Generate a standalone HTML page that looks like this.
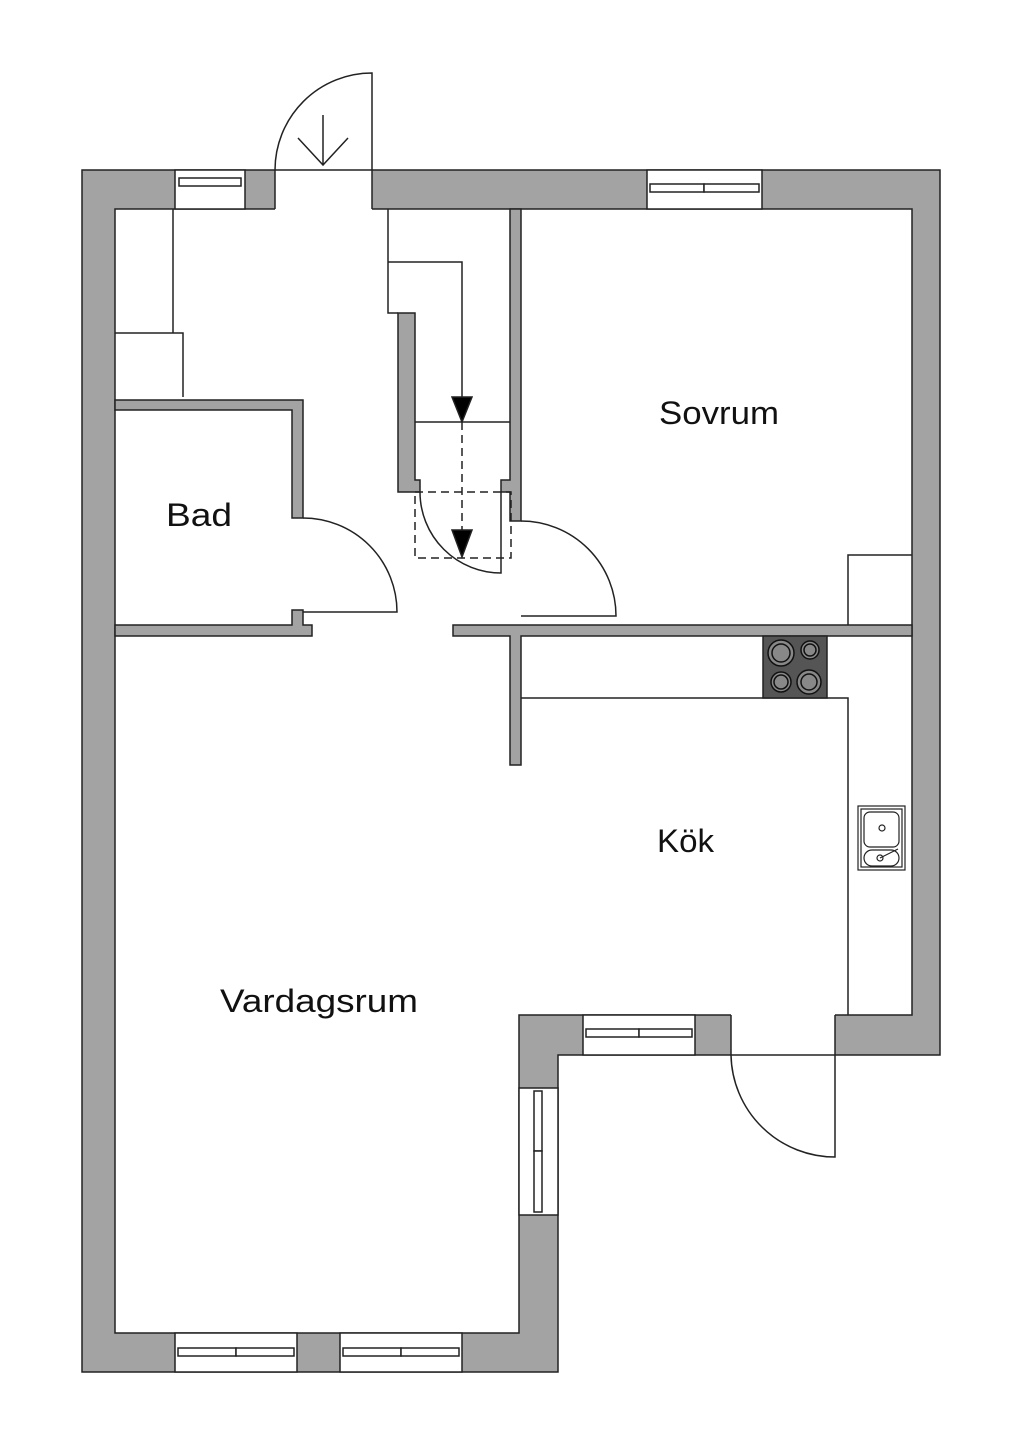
<!DOCTYPE html>
<html><head><meta charset="utf-8"><style>
html,body{margin:0;padding:0;background:#fff;width:1024px;height:1448px;overflow:hidden}
svg{display:block}
text{font-family:"Liberation Sans",sans-serif;font-size:32px;fill:#111}
</style></head><body>
<svg width="1024" height="1448" viewBox="0 0 1024 1448">
<g stroke="#222" stroke-width="1.5">
<path fill="#a3a3a3" fill-rule="evenodd" d="M82,170H940V1055H558V1372H82Z M115,209H912V1015H519V1333H115Z"/>
<rect x="275" y="168" width="97" height="43" fill="#fff" stroke="none"/>
<line x1="275" y1="170" x2="372" y2="170"/>
<line x1="275" y1="170" x2="275" y2="209"/>
<line x1="372" y1="170" x2="372" y2="209"/>
<rect x="731" y="1013" width="104" height="44" fill="#fff" stroke="none"/>
<line x1="731" y1="1015" x2="731" y2="1055"/>
<line x1="835" y1="1015" x2="835" y2="1055"/>
<line x1="731" y1="1055" x2="835" y2="1055"/>
<path d="M275,170 A97,97 0 0 1 372,73 V170" fill="none"/>
<path d="M323,115V165 M298,138L323,165L348,138" fill="none"/>
<path d="M731,1055 A104,104 0 0 0 835,1157 V1055" fill="none"/>
<g fill="#fff">
<rect x="175" y="170" width="70" height="39"/>
<rect x="179" y="178" width="62" height="8"/>
<rect x="647" y="170" width="115" height="39"/>
<rect x="650" y="184" width="54" height="8"/><rect x="704" y="184" width="55" height="8"/>
<rect x="583" y="1015" width="112" height="40"/>
<rect x="586" y="1029" width="53" height="8"/><rect x="639" y="1029" width="53" height="8"/>
<rect x="519" y="1088" width="39" height="127"/>
<rect x="534" y="1091" width="8" height="60"/><rect x="534" y="1151" width="8" height="61"/>
<rect x="175" y="1333" width="122" height="39"/>
<rect x="178" y="1348" width="58" height="8"/><rect x="236" y="1348" width="58" height="8"/>
<rect x="340" y="1333" width="122" height="39"/>
<rect x="343" y="1348" width="58" height="8"/><rect x="401" y="1348" width="58" height="8"/>
</g>
<g fill="#a3a3a3">
<path d="M115,400H303V518H292V410H115Z"/>
<path d="M115,625H292V610H303V625H312V636H115Z"/>
<path d="M453,625H912V636H521V765H510V636H453Z"/>
<path d="M510,209H521V521H510V492H501V480H510Z"/>
<path d="M398,313H415V480H420V492H398Z"/>
</g>
<path d="M303,518 A94,94 0 0 1 397,612 H303" fill="none"/>
<path d="M521,521 A95,95 0 0 1 616,616 H521" fill="none"/>
<path d="M420,492 A81,81 0 0 0 501,573 V492" fill="none"/>
<path d="M173,209V333 M115,333H183V397" fill="none"/>
<path d="M388,209V313H398 M388,262H462V400 M415,422H510" fill="none"/>
<polygon points="452,397 472,397 462,422" fill="#000"/>
<rect x="415" y="492" width="96" height="66" fill="none" stroke-dasharray="8,5"/>
<line x1="462" y1="422" x2="462" y2="530" stroke-dasharray="8,5"/>
<polygon points="452,530 472,530 462,557" fill="#000"/>
<path d="M848,625V555H912" fill="none"/>
<path d="M521,698H848V1015" fill="none"/>
<rect x="763" y="636" width="64" height="62" fill="#555"/>
<g fill="#888" stroke="#111" stroke-width="1.5">
<circle cx="781" cy="653" r="13"/><circle cx="781" cy="653" r="9"/>
<circle cx="810" cy="650" r="9"/><circle cx="810" cy="650" r="6"/>
<circle cx="781" cy="682" r="10"/><circle cx="781" cy="682" r="7"/>
<circle cx="809" cy="682" r="12"/><circle cx="809" cy="682" r="8"/>
</g>
<g fill="#fff" stroke-width="1.2">
<rect x="858" y="806" width="47" height="64"/>
<rect x="861" y="809" width="41" height="58"/>
<rect x="864" y="812" width="35" height="35" rx="6"/>
<rect x="864" y="850" width="35" height="16" rx="8"/>
<circle cx="882" cy="828" r="3"/>
<circle cx="880" cy="858" r="3"/>
<line x1="880" y1="858" x2="898" y2="849"/>
</g>
</g>
<text x="659" y="424" textLength="120" lengthAdjust="spacingAndGlyphs">Sovrum</text>
<text x="166" y="526" textLength="66" lengthAdjust="spacingAndGlyphs">Bad</text>
<text x="657" y="852" textLength="57" lengthAdjust="spacingAndGlyphs">Kök</text>
<text x="220" y="1012" textLength="198" lengthAdjust="spacingAndGlyphs">Vardagsrum</text>
</svg>
</body></html>
